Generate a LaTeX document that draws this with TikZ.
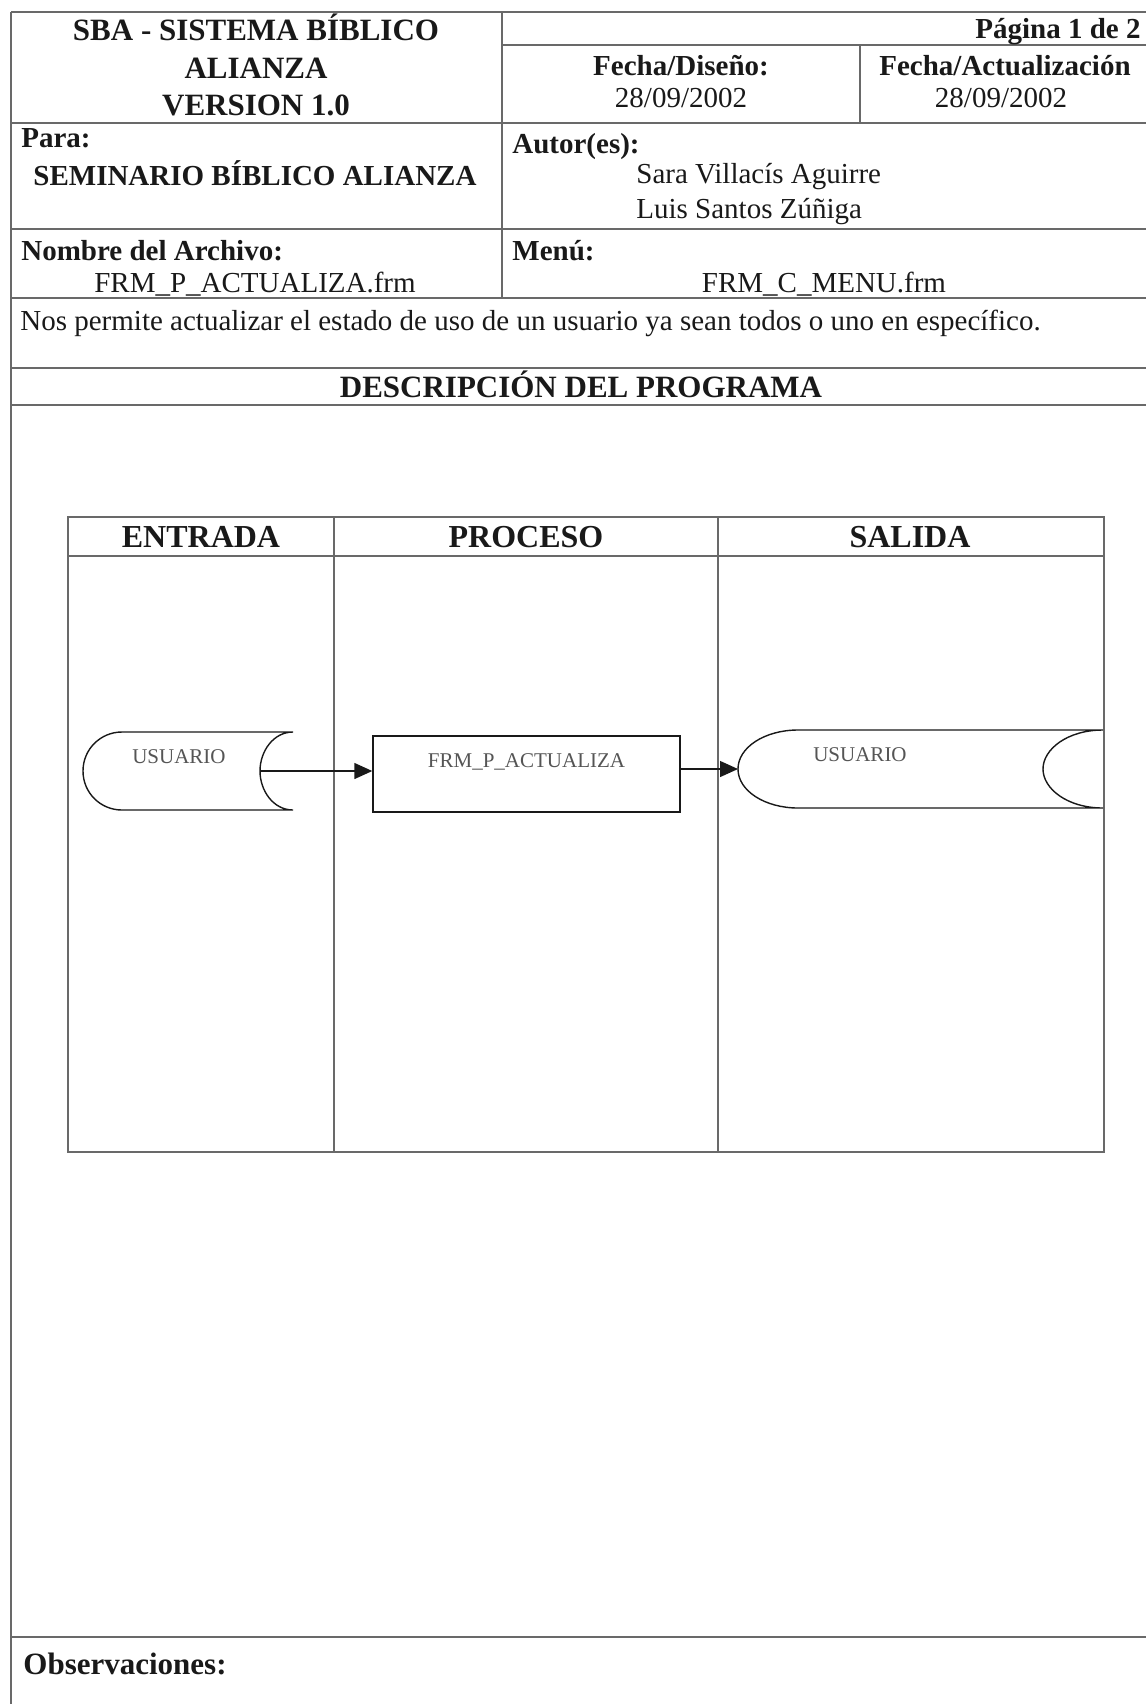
\documentclass[tikz,border=0pt]{standalone}
\usepackage{fontspec}
\setmainfont{Liberation Serif}
\usetikzlibrary{positioning,arrows.meta}
\newcommand{\storedata}[9]{%
  % #1 name, #2 x, #3 y, #4 w, #5 h, #6 bulge, #7 notch, #8 label x, #9 label
  \begin{scope}[shift={(#2,#3)}]
    \draw[shp] (#6,0) -- (#4,0)
      .. controls (#4-0.6*#7,0) and (#4-#7,0.25*#5) .. (#4-#7,0.5*#5)
      .. controls (#4-#7,0.75*#5) and (#4-0.6*#7,#5) .. (#4,#5)
      -- (#6,#5)
      .. controls (0.45*#6,#5) and (0,0.78*#5) .. (0,0.5*#5)
      .. controls (0,0.22*#5) and (0.45*#6,0) .. (#6,0) -- cycle;
    \node[flowtxt, anchor=base] (#1-txt) at (#8,0.41*#5) {#9};
    \coordinate (#1-west) at (0,0.5*#5);
    \coordinate (#1-east) at (#4-#7,0.5*#5);
  \end{scope}%
}

\begin{document}
\begin{tikzpicture}[x=0.5pt, y=-0.5pt,
  rule/.style={draw=rulecol, line width=0.7pt},
  shp/.style={draw=inkcol, line width=0.7pt, fill=white},
  flow/.style={-{Triangle[length=9pt,width=8pt]}, draw=inkcol, line width=0.7pt},
  lbl/.style={font=\fontsize{14.5}{17}\selectfont\bfseries, inner sep=0pt, text=inkcol},
  val/.style={font=\fontsize{14.5}{17}\selectfont, inner sep=0pt, text=inkcol},
  ttl/.style={font=\fontsize{15.5}{18}\selectfont\bfseries, inner sep=0pt, text=inkcol},
  colhead/.style={font=\fontsize{16}{19}\selectfont\bfseries, inner sep=0pt, text=inkcol},
  flowtxt/.style={font=\fontsize{10.5}{12}\selectfont, inner sep=0pt, text=flowcol},
  procbox/.style={shp, minimum width=153.5pt, minimum height=38pt, inner sep=0pt}]

\definecolor{rulecol}{RGB}{105,105,105}
\definecolor{inkcol}{RGB}{25,25,25}
\definecolor{flowcol}{RGB}{85,85,85}

\useasboundingbox (0,0) rectangle (1146,1704);

% ===== HEADER GRID =====
\draw[rule] (11,12) -- (1146,12);
\draw[rule] (11,12) -- (11,1704);
\draw[rule] (502,12) -- (502,298);
\draw[rule] (502,45) -- (1146,45);
\draw[rule] (860,45) -- (860,123);
\foreach \yy in {123,229,298,368,405,1637}
  \draw[rule] (11,\yy) -- (1146,\yy);

% ===== HEADER TEXT =====
\node[ttl, anchor=base] (sys1) at (256,40) {SBA - SISTEMA BÍBLICO};
\node[ttl, anchor=base] (sys2) at (256,78) {ALIANZA};
\node[ttl, anchor=base] (sys3) at (256,115) {VERSION 1.0};
\node[lbl, anchor=base east] (pag) at (1141,38) {Página 1 de 2};
\node[lbl, anchor=base] (fdis) at (681,75) {Fecha/Diseño:};
\node[val, anchor=base] (fdisv) at (681,107) {28/09/2002};
\node[lbl, anchor=base] (fact) at (1005,75) {Fecha/Actualización};
\node[val, anchor=base] (factv) at (1001,107) {28/09/2002};

\node[lbl, anchor=base west] (para) at (21,147) {Para:};
\node[lbl, anchor=base] (parav) at (255,185) {SEMINARIO BÍBLICO ALIANZA};
\node[lbl, anchor=base west] (autor) at (512,153) {Autor(es):};
\node[val, anchor=base west] (aut1) at (636,183) {Sara Villacís Aguirre};
\node[val, anchor=base west] (aut2) at (636,218) {Luis Santos Zúñiga};

\node[lbl, anchor=base west] (arch) at (21,260) {Nombre del Archivo:};
\node[val, anchor=base] (archv) at (255,292) {FRM\_P\_ACTUALIZA.frm};
\node[lbl, anchor=base west] (menu) at (512,260) {Menú:};
\node[val, anchor=base] (menuv) at (824,292) {FRM\_C\_MENU.frm};

\node[val, anchor=base west] (desc) at (20,330) {Nos permite actualizar el estado de uso de un usuario ya sean todos o uno en específico.};
\node[ttl, anchor=base] (prog) at (581,397) {DESCRIPCIÓN DEL PROGRAMA};

% ===== IPO TABLE =====
\draw[rule] (68,517) rectangle (1104,1152);
\draw[rule] (68,556) -- (1104,556);
\foreach \xx in {334,718}
  \draw[rule] (\xx,517) -- (\xx,1152);
\node[colhead, anchor=base] (entrada) at (201,547) {ENTRADA};
\node[colhead, anchor=base] (proceso) at (526,547) {PROCESO};
\node[colhead, anchor=base] (salida) at (910,547) {SALIDA};

% ===== FLOW =====
\storedata{usrin}{83}{732}{210}{78}{39}{33}{96}{USUARIO}
\node[procbox] (proc) at (526.5,774) {};
\node[flowtxt, anchor=base] (proc-txt) at (526.5,767) {FRM\_P\_ACTUALIZA};
\storedata{usrout}{738}{730}{365}{78}{60}{60}{122}{USUARIO}

\draw[flow] (usrin-east) -- (usrin-east -| proc.west);
\draw[flow] (proc.east |- usrout-west) -- (usrout-west);

% ===== OBSERVATIONS =====
\node[ttl, anchor=base west] (obs) at (23,1674) {Observaciones:};

\end{tikzpicture}
\end{document}
